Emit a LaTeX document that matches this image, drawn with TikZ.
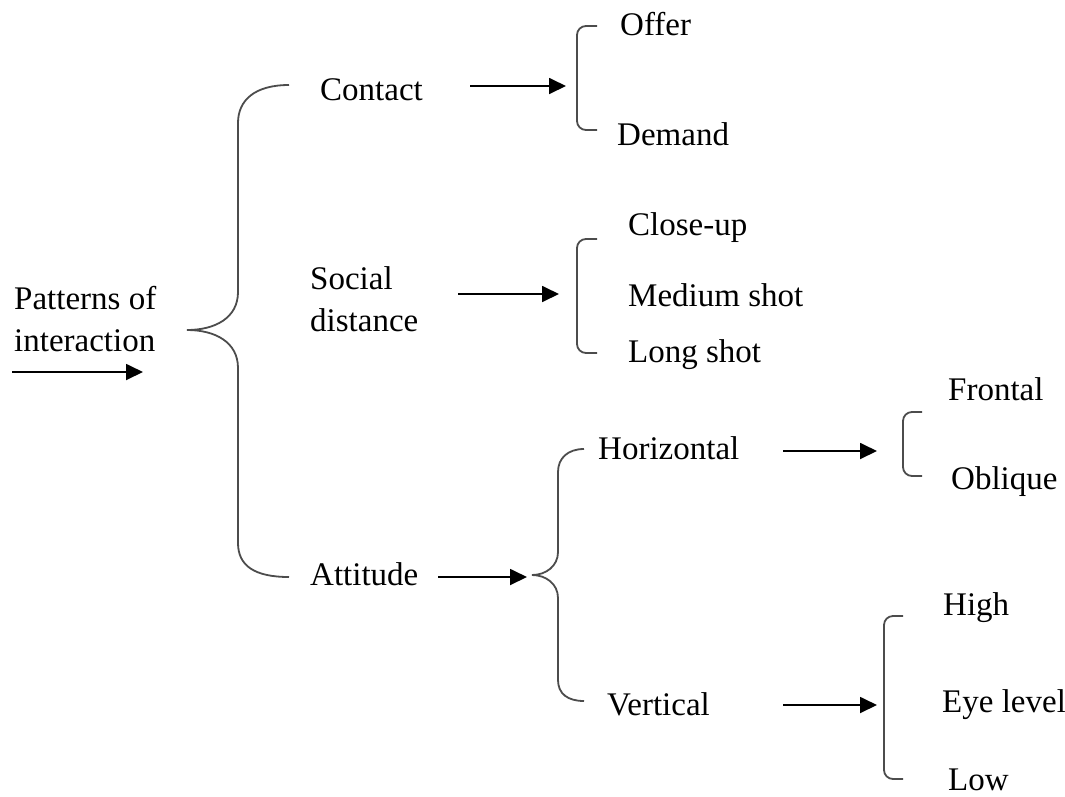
\documentclass[tikz,border=0pt]{standalone}
\usepackage{fontspec}
\setmainfont{Liberation Serif}
\usetikzlibrary{arrows.meta,positioning}

\begin{document}
\begin{tikzpicture}[x=1pt,y=-1pt,
		txt/.style={anchor=base west, inner sep=0pt, align=left, font=\fontsize{33}{42}\selectfont},
		arr/.style={-{Triangle[length=17pt,width=16pt]}, line width=1.8pt},
		brace/.style={line width=1.8pt, draw=black!70},
		bracket/.style={line width=1.8pt, draw=black!70, rounded corners=9pt}]
	\useasboundingbox (0,0) rectangle (1065,796);

	% left part
	\node[txt] (P) at (14,351) {Patterns of\\interaction};
	\coordinate (p1) at (12,372);
	\coordinate (p2) at (143,372);
	\draw[arr] (p1)--(p2);

	\coordinate (b1) at (289,85);
	\coordinate (b2) at (187,330);
	\coordinate (b3) at (289,577);
	\draw[brace] (b1) .. controls (255,85) and (238,100) .. (238,123) -- (238,292)
		.. controls (238,318) and (215,330) .. (b2)
		.. controls (215,330) and (238,342) .. (238,368) -- (238,543)
		.. controls (238,566) and (255,577) .. (b3);

	% contact
	\node[txt] (C) at (320,100) {Contact};
	\coordinate (c1) at (470,86);
	\coordinate (c2) at (566,86);
	\draw[arr] (c1)--(c2);
	\draw[bracket] (597,26) -- (577,26) -- (577,130) -- (597,130);
	\node[txt] (O) at (620,35) {Offer};
	\node[txt] (D) at (617,145) {Demand};

	% social distance
	\node[txt] (S) at (310,331) {Social\\distance};
	\coordinate (s1) at (458,294);
	\coordinate (s2) at (559,294);
	\draw[arr] (s1)--(s2);
	\draw[bracket] (597,239) -- (577,239) -- (577,353) -- (597,353);
	\node[txt] (CU) at (628,235) {Close-up};
	\node[txt] (MS) at (628,306) {Medium shot};
	\node[txt] (LS) at (628,362) {Long shot};

	% attitude
	\node[txt] (A) at (310,585) {Attitude};
	\coordinate (a1) at (438,577);
	\coordinate (a2) at (527,577);
	\draw[arr] (a1)--(a2);

	\coordinate (t1) at (584,449);
	\coordinate (t2) at (532,575);
	\coordinate (t3) at (584,701);
	\draw[brace] (t1) .. controls (568,449) and (558,458) .. (558,472) -- (558,552)
		.. controls (558,566) and (546,575) .. (t2)
		.. controls (546,575) and (558,584) .. (558,598) -- (558,680)
		.. controls (558,694) and (568,701) .. (t3);

	% horizontal
	\node[txt] (H) at (598,459) {Horizontal};
	\coordinate (h1) at (783,451);
	\coordinate (h2) at (877,451);
	\draw[arr] (h1)--(h2);
	\draw[bracket] (922,412) -- (903,412) -- (903,476) -- (922,476);
	\node[txt] (F) at (948,400) {Frontal};
	\node[txt] (OB) at (951,489) {Oblique};

	% vertical
	\node[txt] (V) at (607,715) {Vertical};
	\coordinate (v1) at (783,705);
	\coordinate (v2) at (877,705);
	\draw[arr] (v1)--(v2);
	\draw[bracket] (903,616) -- (884,616) -- (884,779) -- (903,779);
	\node[txt] (HI) at (943,615) {High};
	\node[txt] (E) at (942,712) {Eye level};
	\node[txt] (L) at (948,790) {Low};
\end{tikzpicture}
\end{document}
